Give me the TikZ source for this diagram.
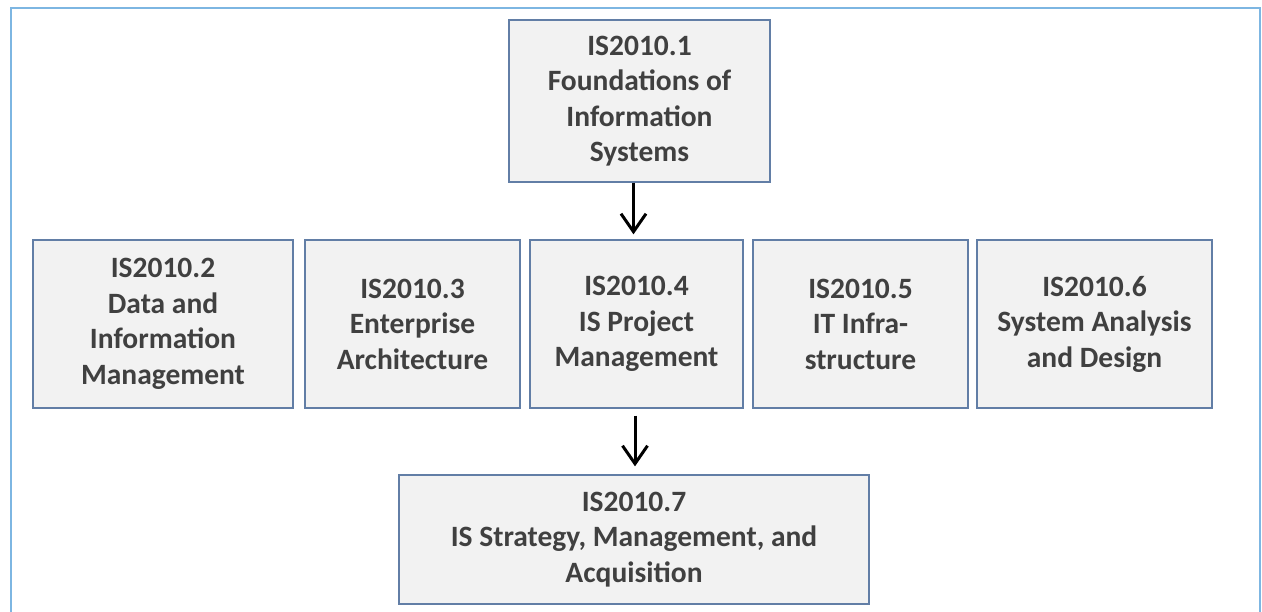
\documentclass[tikz,border=0pt]{standalone}
\usepackage{fontspec}
\setmainfont{Carlito}
\usetikzlibrary{arrows.meta}
\definecolor{boxfill}{RGB}{242,242,242}
\definecolor{boxline}{RGB}{98,126,166}
\definecolor{frameblue}{RGB}{125,182,226}
\definecolor{textgray}{RGB}{64,64,64}
\begin{document}
\begin{tikzpicture}[x=1pt,y=-1pt,
	course/.style={draw=boxline, line width=1.3pt, fill=boxfill, inner sep=0pt, align=center,
		text=textgray, font=\fontsize{29.5}{35.5}\selectfont\bfseries, minimum height=168pt},
	arr/.style={line width=3pt, -{Straight Barb[length=18pt,width=25pt,line width=3pt]}}]
	\useasboundingbox (0,0) rectangle (1262,612);
	% frame
	\draw[frameblue, line width=2.2pt] (11,612) -- (11,8) -- (1260,8) -- (1260,612);
	% top course
	\node[course, minimum width=261pt, minimum height=162pt] (c1) at (639.5,101)
		{IS2010.1\\Foundations of\\Information\\Systems};
	% core courses
	\node[course, minimum width=260pt] (c2) at (163,324) {IS2010.2\\Data and\\Information\\Management};
	\node[course, minimum width=215pt] (c3) at (412.5,324) {IS2010.3\\Enterprise\\Architecture};
	\node[course, minimum width=213pt] (c4) at (636.5,324) {IS2010.4\\IS Project\\Management};
	\node[course, minimum width=215pt] (c5) at (860.5,324) {IS2010.5\\IT Infra-\\structure};
	\node[course, minimum width=235pt] (c6) at (1094.5,324) {IS2010.6\\System Analysis\\and Design};
	% capstone
	\node[course, minimum width=470pt, minimum height=129pt] (c7) at (634,539.5)
		{IS2010.7\\IS Strategy, Management, and\\Acquisition};
	% arrows
	\draw[arr, shorten >=5pt] ([xshift=-6pt]c1.south) -- ([xshift=-6pt]c1.south |- c4.north);
	\draw[arr, shorten <=7pt, shorten >=8pt] ([xshift=1pt]c7.north |- c4.south) -- ([xshift=1pt]c7.north);
\end{tikzpicture}
\end{document}
